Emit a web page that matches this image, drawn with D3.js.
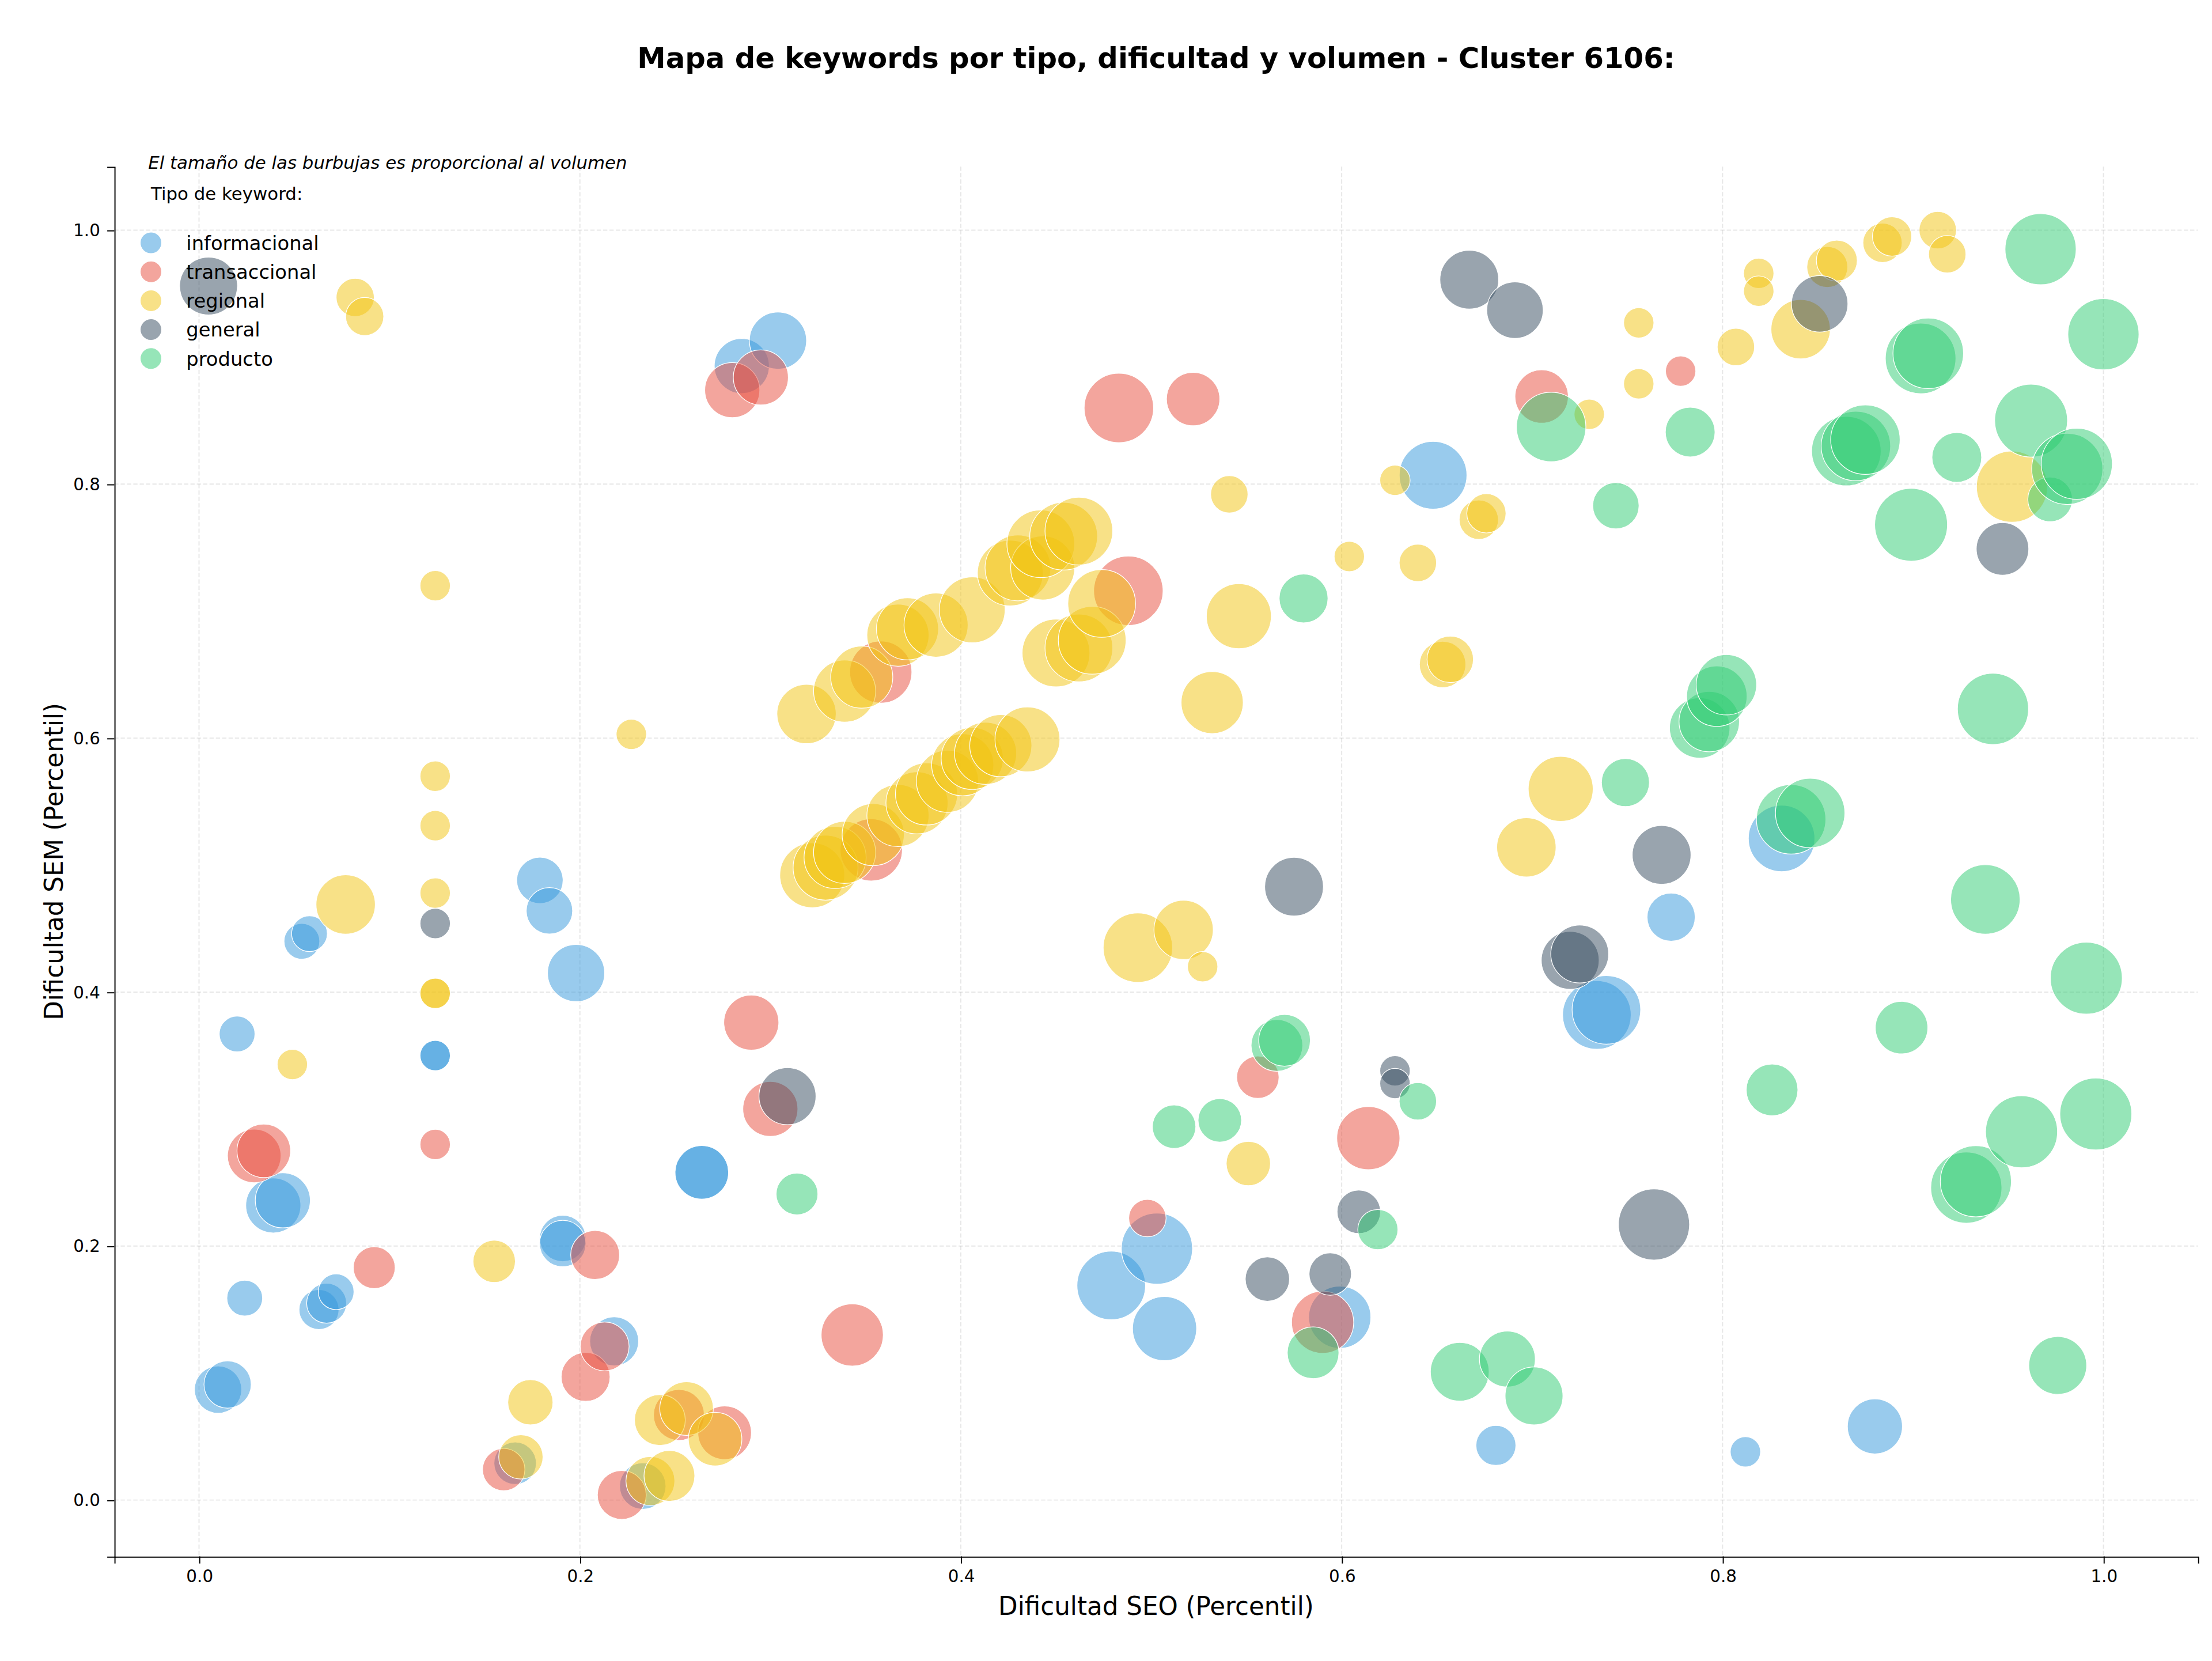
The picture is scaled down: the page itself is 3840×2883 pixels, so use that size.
<!DOCTYPE html>
<html>
<head>
<meta charset="utf-8">
<script src="https://cdn.jsdelivr.net/npm/d3@7"></script>
<style>
  body { margin: 0; background: #fff; }
  svg { display: block; font-family: "DejaVu Sans", sans-serif; }
</style>
</head>
<body>
<div id="chart"></div>
<script>
// tipos de keyword y sus colores
const tipos = ['informacional', 'transaccional', 'regional', 'general', 'producto']
const colores = ['#3498db', '#e74c3c', '#f1c40f', '#34495e', '#2ecc71']

// [dificultad SEO, dificultad SEM, volumen]
const informacional = [
  [0.010, 0.087, 280], [0.015, 0.091, 280], [0.024, 0.159, 160], [0.020, 0.367, 160],
  [0.039, 0.232, 380], [0.044, 0.236, 380], [0.054, 0.440, 160], [0.058, 0.446, 160],
  [0.063, 0.150, 200], [0.067, 0.155, 200], [0.072, 0.164, 160], [0.124, 0.350, 115],
  [0.124, 0.350, 115], [0.179, 0.488, 270], [0.184, 0.464, 270], [0.198, 0.415, 410],
  [0.191, 0.206, 270], [0.191, 0.202, 270], [0.218, 0.125, 300], [0.233, 0.011, 270],
  [0.264, 0.258, 360], [0.264, 0.258, 360], [0.285, 0.893, 380], [0.304, 0.913, 410],
  [0.479, 0.169, 590], [0.503, 0.198, 635], [0.507, 0.135, 515], [0.599, 0.144, 485],
  [0.648, 0.807, 575], [0.681, 0.043, 200], [0.734, 0.382, 590], [0.739, 0.386, 590],
  [0.773, 0.459, 290], [0.812, 0.038, 115], [0.831, 0.521, 555], [0.880, 0.058, 380],
  [0.166, 0.029, 225]
]

const transaccional = [
  [0.029, 0.271, 360], [0.034, 0.275, 360], [0.092, 0.183, 220], [0.124, 0.280, 115],
  [0.160, 0.024, 225], [0.203, 0.097, 300], [0.208, 0.193, 300], [0.213, 0.121, 300],
  [0.222, 0.004, 300], [0.252, 0.067, 325], [0.276, 0.053, 360], [0.280, 0.874, 380],
  [0.295, 0.884, 380], [0.290, 0.376, 380], [0.300, 0.308, 380], [0.343, 0.130, 485],
  [0.353, 0.512, 485], [0.358, 0.652, 485], [0.483, 0.860, 605], [0.522, 0.867, 357],
  [0.488, 0.716, 605], [0.498, 0.222, 175], [0.556, 0.333, 225], [0.590, 0.140, 485],
  [0.614, 0.285, 500], [0.705, 0.869, 357], [0.778, 0.889, 115]
]

const regional = [
  [0.082, 0.947, 182], [0.087, 0.932, 182], [0.077, 0.469, 441], [0.049, 0.343, 115],
  [0.124, 0.720, 115], [0.124, 0.570, 115], [0.124, 0.531, 115], [0.124, 0.478, 115],
  [0.124, 0.399, 115], [0.124, 0.399, 115], [0.155, 0.188, 225], [0.174, 0.077, 256],
  [0.169, 0.034, 246], [0.227, 0.603, 115], [0.237, 0.015, 300], [0.247, 0.019, 324],
  [0.242, 0.063, 324], [0.256, 0.072, 360], [0.271, 0.048, 360],
  // banda superior
  [0.319, 0.619, 441], [0.339, 0.637, 484], [0.348, 0.648, 484], [0.367, 0.681, 484],
  [0.372, 0.686, 484], [0.387, 0.689, 515], [0.406, 0.701, 543], [0.426, 0.730, 543],
  [0.430, 0.734, 543], [0.443, 0.734, 515], [0.442, 0.753, 576], [0.454, 0.759, 576],
  [0.462, 0.763, 576], [0.450, 0.667, 576], [0.462, 0.671, 576], [0.469, 0.677, 576],
  [0.474, 0.706, 576],
  // banda inferior
  [0.322, 0.492, 529], [0.329, 0.498, 529], [0.334, 0.506, 484], [0.339, 0.510, 484],
  [0.354, 0.524, 484], [0.367, 0.539, 484], [0.377, 0.549, 484], [0.382, 0.556, 484],
  [0.393, 0.566, 484], [0.401, 0.579, 484], [0.406, 0.584, 484], [0.413, 0.588, 484],
  [0.421, 0.594, 484], [0.435, 0.599, 529],
  // resto
  [0.493, 0.435, 605], [0.517, 0.449, 441], [0.527, 0.420, 115], [0.546, 0.696, 529],
  [0.532, 0.628, 484], [0.541, 0.792, 175], [0.551, 0.265, 246], [0.604, 0.743, 115],
  [0.628, 0.803, 115], [0.640, 0.738, 175], [0.653, 0.658, 270], [0.657, 0.662, 270],
  [0.672, 0.772, 193], [0.676, 0.777, 193], [0.697, 0.514, 441], [0.715, 0.560, 529],
  [0.730, 0.855, 115], [0.756, 0.927, 115], [0.756, 0.879, 115], [0.807, 0.908, 175],
  [0.819, 0.966, 115], [0.819, 0.952, 115], [0.841, 0.922, 441], [0.855, 0.971, 210],
  [0.860, 0.976, 210], [0.884, 0.990, 193], [0.889, 0.995, 193], [0.913, 1.000, 175],
  [0.918, 0.981, 175], [0.952, 0.798, 635]
]

const general = [
  [0.005, 0.956, 420], [0.124, 0.454, 115], [0.309, 0.318, 408], [0.575, 0.483, 433],
  [0.561, 0.174, 246], [0.594, 0.178, 225], [0.609, 0.227, 237], [0.628, 0.338, 115],
  [0.628, 0.328, 115], [0.667, 0.961, 433], [0.691, 0.937, 400], [0.720, 0.425, 420],
  [0.725, 0.430, 420], [0.768, 0.508, 433], [0.764, 0.217, 635], [0.851, 0.942, 400],
  [0.947, 0.749, 346]
]

const producto = [
  [0.314, 0.241, 219], [0.512, 0.294, 237], [0.536, 0.299, 237], [0.566, 0.358, 335],
  [0.570, 0.362, 335], [0.580, 0.710, 299], [0.585, 0.116, 335], [0.619, 0.213, 202],
  [0.640, 0.314, 175], [0.662, 0.101, 433], [0.687, 0.111, 392], [0.701, 0.082, 420],
  [0.710, 0.845, 605], [0.744, 0.783, 269], [0.749, 0.565, 289], [0.783, 0.841, 310],
  [0.788, 0.608, 458], [0.793, 0.613, 458], [0.797, 0.633, 458], [0.802, 0.642, 458],
  [0.826, 0.323, 335], [0.836, 0.536, 605], [0.846, 0.541, 605], [0.865, 0.826, 605],
  [0.870, 0.830, 605], [0.875, 0.835, 605], [0.894, 0.372, 346], [0.899, 0.768, 666],
  [0.904, 0.899, 625], [0.908, 0.903, 625], [0.923, 0.821, 310], [0.928, 0.246, 635],
  [0.933, 0.251, 635], [0.938, 0.473, 605], [0.942, 0.623, 635], [0.957, 0.290, 650],
  [0.962, 0.850, 666], [0.967, 0.985, 635], [0.972, 0.788, 250], [0.976, 0.106, 420],
  [0.981, 0.812, 635], [0.986, 0.816, 635], [0.991, 0.411, 650], [0.996, 0.304, 650],
  [1.000, 0.918, 635]
]

const xTicks = [0.0, 0.2, 0.4, 0.6, 0.8, 1.0]
const yTicks = [0.0, 0.2, 0.4, 0.6, 0.8, 1.0]

const series = [informacional, transaccional, regional, general, producto]

// dibujo en unidades de 1568x1177, escalado a 3840x2883
const W = 1568, H = 1177
const mLeft = 81, mRight = 1558, mTop = 118, mBottom = 1103

const svg = d3.select('#chart').append('svg')
  .attr('width', 3840)
  .attr('height', 2883)
  .attr('viewBox', `0 0 ${W} ${H}`)

const x = d3.scaleLinear().domain([-0.0445, 1.0496]).range([mLeft, mRight])
const y = d3.scaleLinear().domain([-0.0444, 1.05]).range([mBottom, mTop])
const maxVol = d3.max(series.flat(), d => d[2])
const r = d3.scaleSqrt().domain([0, maxVol]).range([0, 25.8])

// grid
const grid = svg.append('g').attr('class', 'grid')
grid.selectAll('.gx').data(xTicks).enter().append('line')
  .attr('x1', d => x(d)).attr('x2', d => x(d))
  .attr('y1', mTop).attr('y2', mBottom)
grid.selectAll('.gy').data(yTicks).enter().append('line')
  .attr('x1', mLeft).attr('x2', mRight)
  .attr('y1', d => y(d)).attr('y2', d => y(d))
grid.selectAll('line')
  .attr('stroke', '#b0b0b0')
  .attr('stroke-opacity', 0.3)
  .attr('stroke-width', 0.8)
  .attr('stroke-dasharray', '3,1.5')

// burbujas
series.forEach((serie, i) => {
  svg.append('g').attr('class', 'serie-' + tipos[i])
    .selectAll('circle')
    .data(serie)
    .enter()
    .append('circle')
    .attr('cx', d => x(d[0]))
    .attr('cy', d => y(d[1]))
    .attr('r', d => r(d[2]))
    .attr('fill', colores[i])
    .attr('fill-opacity', 0.5)
    .attr('stroke', '#fff')
    .attr('stroke-width', 0.5)
})

// ejes
const xAxis = svg.append('g')
  .attr('transform', `translate(0,${mBottom})`)
  .call(d3.axisBottom(x).tickValues(xTicks).tickFormat(d3.format('.1f')).tickSizeOuter(0).tickSize(5).tickPadding(4.5))
const yAxis = svg.append('g')
  .attr('transform', `translate(${mLeft},0)`)
  .call(d3.axisLeft(y).tickValues(yTicks).tickFormat(d3.format('.1f')).tickSizeOuter(0).tickSize(5).tickPadding(5))

;[xAxis, yAxis].forEach(a => {
  a.selectAll('text').attr('font-size', 12).attr('font-family', '"DejaVu Sans", sans-serif').attr('fill', '#000')
  a.selectAll('line').attr('stroke', '#000').attr('stroke-width', 0.8)
  a.select('.domain').attr('stroke', '#000').attr('stroke-width', 0.8)
})

// titulos
svg.append('text')
  .attr('x', (mLeft + mRight) / 2)
  .attr('y', 48)
  .attr('text-anchor', 'middle')
  .attr('font-size', 20.3)
  .attr('font-weight', 'bold')
  .text('Mapa de keywords por tipo, dificultad y volumen - Cluster 6106:')

svg.append('text')
  .attr('x', (mLeft + mRight) / 2)
  .attr('y', 1144.5)
  .attr('text-anchor', 'middle')
  .attr('font-size', 17.8)
  .text('Dificultad SEO (Percentil)')

svg.append('text')
  .attr('transform', `translate(44.5,${(mTop + mBottom) / 2}) rotate(-90)`)
  .attr('text-anchor', 'middle')
  .attr('font-size', 17.8)
  .text('Dificultad SEM (Percentil)')

// leyenda
svg.append('text')
  .attr('x', 105).attr('y', 119.5)
  .attr('font-size', 12.6)
  .attr('font-style', 'italic')
  .text('El tamaño de las burbujas es proporcional al volumen')

svg.append('text')
  .attr('x', 107).attr('y', 141.5)
  .attr('font-size', 12.6)
  .text('Tipo de keyword:')

const legend = svg.append('g').selectAll('g')
  .data(tipos)
  .enter()
  .append('g')
  .attr('transform', (d, i) => `translate(107,${172 + i * 20.5})`)

legend.append('circle')
  .attr('r', 7.6)
  .attr('fill', (d, i) => colores[i])
  .attr('fill-opacity', 0.5)
  .attr('stroke', '#fff')
  .attr('stroke-width', 0.5)

legend.append('text')
  .attr('x', 25)
  .attr('y', 5)
  .attr('font-size', 13.8)
  .text(d => d)
</script>
</body>
</html>
